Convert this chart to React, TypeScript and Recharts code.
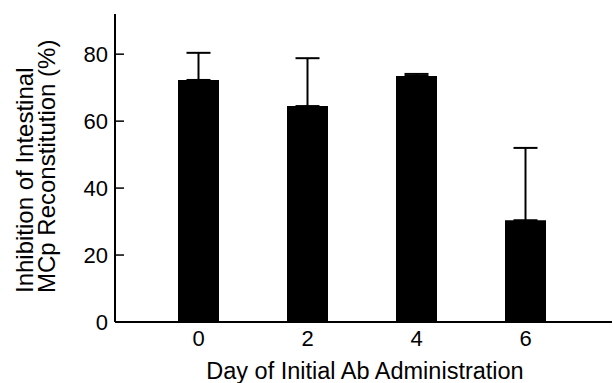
import React from 'react';
import { BarChart, Bar, XAxis, YAxis, ErrorBar } from 'recharts';

const days = ['0', '2', '4', '6'];
const inhibition = [72.3, 64.5, 73.5, 30.4];
const errorUp = [8.1, 14.3, 0.6, 21.6];
const yTicks = [0, 20, 40, 60, 80];

const data = days.map((d, i) => ({ day: d, value: inhibition[i], err: [0, errorUp[i]] }));

const FONT = '"Liberation Sans", Arial, Helvetica, sans-serif';

const YTick = (props: any) => {
  const { x, y, payload } = props;
  return (
    <g>
      <line x1={x + 7} x2={x + 16} y1={y} y2={y} stroke="#000" strokeWidth={1.5} />
      <text x={x} y={y} dy="0.36em" textAnchor="end" fontSize={22} fontFamily={FONT} fill="#000">
        {payload.value}
      </text>
    </g>
  );
};

const XTick = (props: any) => {
  const { x, y, payload } = props;
  return (
    <text x={x} y={y} dy="0.72em" textAnchor="middle" fontSize={22} fontFamily={FONT} fill="#000">
      {payload.value}
    </text>
  );
};

const YLabel = (props: any) => {
  const vb = props.viewBox;
  const startY = vb.y + vb.height - 29;
  return (
    <g fontFamily={FONT} fontSize={24} fill="#000">
      <text x={33} y={startY} transform={`rotate(-90, 33, ${startY})`} textAnchor="start">
        Inhibition of Intestinal
      </text>
      <text x={55} y={startY} transform={`rotate(-90, 55, ${startY})`} textAnchor="start">
        MCp Reconstitution (%)
      </text>
    </g>
  );
};

const XLabel = (props: any) => {
  const vb = props.viewBox;
  return (
    <text
      x={vb.x + vb.width / 2 + 1.5}
      y={vb.y + 56.5}
      textAnchor="middle"
      fontFamily={FONT}
      fontSize={23.5}
      fill="#000"
    >
      Day of Initial Ab Administration
    </text>
  );
};

export default function App() {
  return (
    <div style={{ position: 'absolute', left: 0, top: 0, background: '#fff' }}>
      <BarChart
        width={613}
        height={383}
        data={data}
        margin={{ top: 14, right: 1, bottom: 0, left: 0 }}
      >
        <XAxis
          dataKey="day"
          height={61}
          padding={{ left: 29, right: 32 }}
          axisLine={{ stroke: '#000', strokeWidth: 2 }}
          tickLine={false}
          tickSize={0}
          tickMargin={8}
          tick={<XTick />}
          label={<XLabel />}
        />
        <XAxis
          xAxisId="top"
          dataKey="day"
          orientation="top"
          height={0}
          tick={false}
          tickLine={false}
          axisLine={{ stroke: '#000', strokeWidth: 1.2 }}
        />
        <YAxis
          width={115}
          domain={[0, 92]}
          ticks={yTicks}
          allowDataOverflow
          axisLine={{ stroke: '#000', strokeWidth: 2 }}
          tickLine={false}
          tickSize={0}
          tickMargin={7}
          tick={<YTick />}
          label={<YLabel />}
        />
        <YAxis
          yAxisId="right"
          orientation="right"
          width={0}
          tick={false}
          tickLine={false}
          axisLine={{ stroke: '#000', strokeWidth: 1.5 }}
        />
        <Bar dataKey="value" fill="#000" barSize={41} isAnimationActive={false}>
          <ErrorBar dataKey="err" width={12} stroke="#000" strokeWidth={2} direction="y" />
        </Bar>
      </BarChart>
    </div>
  );
}
